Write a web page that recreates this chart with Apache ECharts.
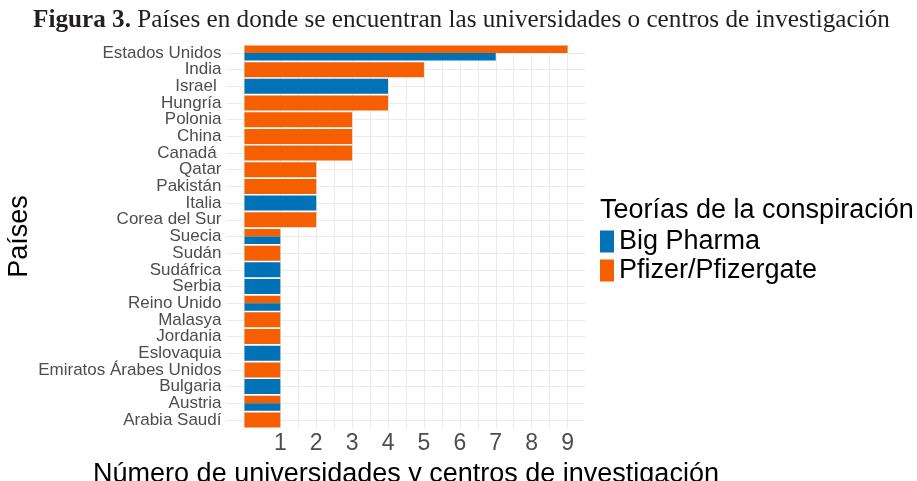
<!DOCTYPE html>
<html><head><meta charset="utf-8">
<script src="https://cdn.jsdelivr.net/npm/echarts@6/dist/echarts.min.js"></script>
<style>html,body{margin:0;padding:0;background:#fff}#c{width:917px;height:481px}</style>
</head><body><div id="c"></div>
<script>
const countries = ['Estados Unidos','India','Israel ','Hungría','Polonia','China','Canadá ','Qatar','Pakistán','Italia','Corea del Sur','Suecia','Sudán','Sudáfrica','Serbia','Reino Unido','Malasya','Jordania','Eslovaquia','Emiratos Árabes Unidos','Bulgaria','Austria','Arabia Saudí'];
const bigPharma = [7,0,4,0,0,0,0,0,0,2,0,1,0,1,1,1,0,0,1,0,1,1,0];
const pfizer    = [9,5,0,4,3,3,3,2,2,0,2,1,1,0,0,1,1,1,0,1,0,1,1];
const xTickLabels = [1,2,3,4,5,6,7,8,9];
const seriesNames = ['Big Pharma','Pfizer/Pfizergate'];
const titleBold = 'Figura 3.';
const titleRest = 'Países en donde se encuentran las universidades o centros de investigación';
const legendTitle = 'Teorías de la conspiración';
const xTitle = 'Número de universidades y centros de investigación';
const yTitle = 'Países';

const BLUE = '#0072B5', ORANGE = '#F55F00';
const both = countries.map((c,i)=> bigPharma[i]>0 && pfizer[i]>0);
const fullBP = bigPharma.map((v,i)=> (!both[i] && v>0) ? v : '-');
const fullPF = pfizer.map((v,i)=> (!both[i] && v>0) ? v : '-');
const halfBP = bigPharma.map((v,i)=> both[i] ? v : '-');
const halfPF = pfizer.map((v,i)=> both[i] ? v : '-');

const SANS = 'Liberation Sans';
const gridColors = [];
for (let k = 0; k <= 20; k++) gridColors.push((k===0||k===20) ? 'rgba(0,0,0,0)' : '#EBEBEB');

const chart = echarts.init(document.getElementById('c'), null, {renderer:'canvas'});
chart.setOption({
  animation: false,
  backgroundColor: '#fff',
  title: [
    { text: '{b|' + titleBold + '} ' + titleRest, left: 33, top: 8, padding: 0,
      textStyle: { fontFamily: 'Liberation Serif', fontSize: 25.2, color: '#231F20', fontWeight: 'normal',
        rich: { b: { fontFamily: 'Liberation Serif', fontSize: 25.2, fontWeight: 'bold', color: '#231F20' } } } },
    { text: legendTitle, left: 600, top: 197, padding: 0,
      textStyle: { fontFamily: SANS, fontSize: 27, color: '#000', fontWeight: 'normal' } }
  ],
  legend: {
    data: seriesNames, orient: 'vertical', left: 600, top: 228, padding: 0,
    itemWidth: 14, itemHeight: 22, itemGap: 2, icon: 'rect',
    textStyle: { fontFamily: SANS, fontSize: 27, color: '#000', lineHeight: 22 }
  },
  grid: { left: 226.5, top: 44.66, width: 359, height: 383.6, containLabel: false, outerBoundsMode: 'none' },
  xAxis: {
    type: 'value', min: -0.5, max: 9.5, interval: 0.5,
    axisLine: { show: false }, axisTick: { show: false },
    axisLabel: { fontFamily: SANS, fontSize: 23, color: '#4D4D4D', margin: 4,
      formatter: v => xTickLabels.includes(v) ? String(v) : '' },
    splitLine: { show: true, lineStyle: { color: gridColors, width: 1 } },
    name: xTitle, nameLocation: 'middle', nameGap: 33,
    nameTextStyle: { fontFamily: SANS, fontSize: 27, color: '#000' }
  },
  yAxis: [
    { type: 'category', data: countries, inverse: true,
      axisLine: { show: false }, axisTick: { show: false },
      axisLabel: { interval: 0, fontFamily: SANS, fontSize: 17, color: '#4D4D4D', margin: 5 },
      splitLine: { show: true, interval: 0, alignWithLabel: true, lineStyle: { color: '#EBEBEB', width: 1 } },
      name: yTitle, nameLocation: 'middle', nameGap: 193, nameRotate: 90,
      nameTextStyle: { fontFamily: SANS, fontSize: 27, color: '#000' } },
    { type: 'category', data: countries, inverse: true, show: false }
  ],
  series: [
    { name: seriesNames[0], type: 'bar', yAxisIndex: 0, stack: 'full', data: fullBP,
      barCategoryGap: '10%', itemStyle: { color: BLUE } },
    { name: seriesNames[1], type: 'bar', yAxisIndex: 0, stack: 'full', data: fullPF,
      barCategoryGap: '10%', itemStyle: { color: ORANGE } },
    { name: seriesNames[1], type: 'bar', yAxisIndex: 1, data: halfPF,
      barGap: 0, barCategoryGap: '10%', itemStyle: { color: ORANGE } },
    { name: seriesNames[0], type: 'bar', yAxisIndex: 1, data: halfBP,
      barGap: 0, barCategoryGap: '10%', itemStyle: { color: BLUE } }
  ]
});
</script>
</body></html>
